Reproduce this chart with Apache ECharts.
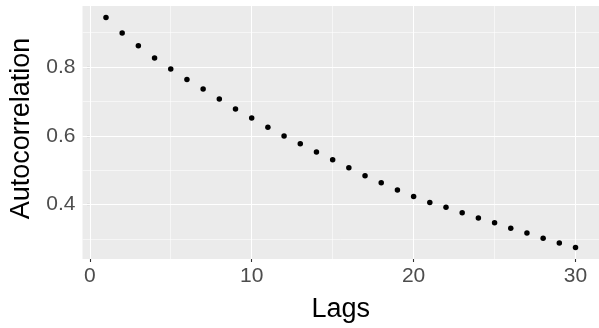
<!DOCTYPE html>
<html>
<head>
<meta charset="utf-8">
<script src="https://cdn.jsdelivr.net/npm/echarts@6/dist/echarts.min.js"></script>
<style>
  html, body { margin: 0; padding: 0; background: #fff; }
  #chart { width: 599px; height: 328px; }
</style>
</head>
<body>
<div id="chart"></div>
<script>
// Sample autocorrelation at lags 1..30
const lags = [1, 2, 3, 4, 5, 6, 7, 8, 9, 10, 11, 12, 13, 14, 15,
              16, 17, 18, 19, 20, 21, 22, 23, 24, 25, 26, 27, 28, 29, 30];
const acf = [0.944, 0.899, 0.862, 0.826, 0.794, 0.764, 0.736, 0.707, 0.678, 0.652,
             0.625, 0.599, 0.577, 0.553, 0.530, 0.507, 0.484, 0.463, 0.442, 0.423,
             0.406, 0.392, 0.376, 0.361, 0.347, 0.331, 0.317, 0.302, 0.288, 0.275];

const xTicks = [0, 10, 20, 30];
const xMinor = [5, 15, 25];
const yTicks = [0.4, 0.6, 0.8];
const yMinor = [0.3, 0.5, 0.7, 0.9];

// 5% padding on each side of the data range
const xLo = Math.min(...lags), xHi = Math.max(...lags);
const yLo = Math.min(...acf), yHi = Math.max(...acf);
const xPad = (xHi - xLo) * 0.05, yPad = (yHi - yLo) * 0.05;

const font = '"Liberation Sans", Arial, sans-serif';

const gridLines = [];
xMinor.forEach(v => gridLines.push({ xAxis: v, lineStyle: { width: 0.55 } }));
yMinor.forEach(v => gridLines.push({ yAxis: v, lineStyle: { width: 0.55 } }));
xTicks.forEach(v => gridLines.push({ xAxis: v, lineStyle: { width: 1.1 } }));
yTicks.forEach(v => gridLines.push({ yAxis: v, lineStyle: { width: 1.1 } }));

const chart = echarts.init(document.getElementById('chart'), null, { renderer: 'canvas' });
chart.setOption({
  animation: false,
  backgroundColor: '#ffffff',
  grid: {
    left: 82.5, right: 0, top: 6, bottom: 60,
    show: true, backgroundColor: '#EBEBEB', borderWidth: 0
  },
  xAxis: {
    type: 'value',
    min: xLo - xPad, max: xHi + xPad,
    name: 'Lags',
    nameLocation: 'middle',
    nameGap: 37,
    nameTextStyle: { fontFamily: font, fontSize: 27, color: '#000' },
    axisLine: { show: false },
    splitLine: { show: false },
    axisTick: { show: true, length: 3, customValues: xTicks,
                lineStyle: { color: '#333333', width: 1.1 } },
    axisLabel: { customValues: xTicks, margin: 7, fontFamily: font,
                 fontSize: 21, color: '#4D4D4D' }
  },
  yAxis: {
    type: 'value',
    min: yLo - yPad, max: yHi + yPad,
    name: 'Autocorrelation',
    nameLocation: 'middle',
    nameRotate: 90,
    nameGap: 45,
    nameTextStyle: { fontFamily: font, fontSize: 27, color: '#000',
                     padding: [0, 0, 0, 8] },
    axisLine: { show: false },
    splitLine: { show: false },
    axisTick: { show: true, length: 3, customValues: yTicks,
                lineStyle: { color: '#333333', width: 1.1 } },
    axisLabel: { customValues: yTicks, margin: 7, fontFamily: font,
                 fontSize: 21, color: '#4D4D4D',
                 formatter: v => v.toFixed(1) }
  },
  series: [{
    type: 'scatter',
    data: lags.map((l, i) => [l, acf[i]]),
    symbol: 'circle',
    symbolSize: 5.5,
    itemStyle: { color: '#000000', opacity: 1 },
    z: 5,
    markLine: {
      silent: true,
      symbol: ['none', 'none'],
      label: { show: false },
      lineStyle: { color: '#FFFFFF', type: 'solid', width: 1.1 },
      emphasis: { disabled: true },
      data: gridLines
    }
  }]
});
</script>
</body>
</html>
